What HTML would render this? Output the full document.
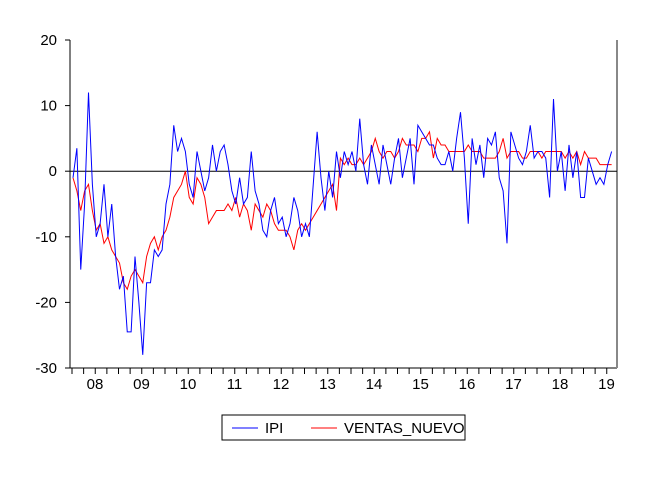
<!DOCTYPE html>
<html><head><meta charset="utf-8"><style>
body{margin:0;background:#fff;}
svg text{font-family:"Liberation Sans",Arial,sans-serif;font-size:15px;fill:#000;}
</style></head><body>
<svg id="chart" width="659" height="475" viewBox="0 0 659 475" xmlns="http://www.w3.org/2000/svg">
<g id="axes"></g>
<g id="series"></g>
<g>
<rect x="222" y="415" width="243" height="25" fill="#fff" stroke="#000" stroke-width="1"/>
<line x1="232" y1="428" x2="258" y2="428" stroke="#0000ff" stroke-width="1"/>
<text x="265" y="433">IPI</text>
<line x1="311" y1="428" x2="337" y2="428" stroke="#ff0000" stroke-width="1"/>
<text x="344" y="433">VENTAS_NUEVO</text>
</g>
</svg>
<script>
const yearLabels=["08","09","10","11","12","13","14","15","16","17","18","19"];
const yTicks=[20,10,0,-10,-20,-30];
const ipi=[
-1,3.5,-15,-5,12,-2,-10,-8,-2,-10,-5,-13,
-18,-16,-24.5,-24.5,-13,-20,-28,-17,-17,-12,-13,-12,
-5,-2,7,3,5,3,-2,-4,3,0,-3,-1,
4,0,3,4,1,-3,-5,-1,-5,-4,3,-3,
-5,-9,-10,-6,-4,-8,-7,-10,-8,-4,-6,-10,
-8,-10,-2,6,-1,-6,0,-4,3,-1,3,1,
3,0,8,1,-2,4,1,-2,4,1,-2,2,
5,-1,2,5,-2,7,6,5,4,4,2,1,
1,3,0,5,9,2,-8,5,1,4,-1,5,
4,6,-1,-3,-11,6,4,2,1,3,7,2,
3,3,2,-4,11,0,3,-3,4,-1,3,-4,
-4,2,0,-2,-1,-2,1,3];
const ventas=[
-1,-3,-6,-3,-2,-6,-9,-8,-11,-10,-12,-13,
-14,-17,-18,-16,-15,-16,-17,-13,-11,-10,-12,-10,
-9,-7,-4,-3,-2,0,-4,-5,-1,-2,-4,-8,
-7,-6,-6,-6,-5,-6,-4,-7,-5,-6,-9,-5,
-6,-7,-5,-6,-8,-9,-9,-9,-10,-12,-9,-8,
-9,-8,-7,-6,-5,-4,-3,-2,-6,2,1,2,
1,1,2,1,2,3,5,3,2,3,3,2,
3,5,4,4,4,3,5,5,6,2,5,4,
4,3,3,3,3,3,4,3,3,3,2,2,
2,2,3,5,2,3,3,3,2,2,3,3,
3,2,3,3,3,3,3,2,3,2,3,1,
3,2,2,2,1,1,1,1];
const NS='http://www.w3.org/2000/svg';
const L=70,R=617,T=40,B=368,X0=72,MW=3.875;
const ymin=-30,ymax=20;
function ys(v){return B-(v-ymin)/(ymax-ymin)*(B-T);}
function xs(i){return X0+1+i*MW;}
function mk(tag,attrs,parent){const e=document.createElementNS(NS,tag);for(const k in attrs)e.setAttribute(k,attrs[k]);parent.appendChild(e);return e;}
const ax=document.getElementById('axes');
let e;
e=mk('line',{x1:L,y1:T,x2:L,y2:B,stroke:'#000'},ax);


e=mk('line',{x1:L,y1:B,x2:R,y2:B,stroke:'#000'},ax);


e=mk('line',{x1:R,y1:T,x2:R,y2:B,stroke:'#888',"stroke-width":2},ax);


e=mk('line',{x1:L,y1:ys(0),x2:R,y2:ys(0),stroke:'#000'},ax);


yTicks.forEach(v=>{
  mk('line',{x1:L-5,y1:ys(v),x2:L,y2:ys(v),stroke:'#000'},ax);
  const t=mk('text',{x:L-13,y:ys(v)+5,'text-anchor':'end'},ax);
  t.textContent=v;
  
  
});
for(let q=0;q<=yearLabels.length*4;q++){
  const x=X0+q*MW*3;
  if(x>R)break;
  mk('line',{x1:x,y1:B,x2:x,y2:B+6,stroke:'#000'},ax);
}
yearLabels.forEach((lab,i)=>{
  const t=mk('text',{x:X0+i*12*MW+23,y:B+21,'text-anchor':'middle'},ax);
  t.textContent=lab;
  
  
});
const sg=document.getElementById('series');
function draw(arr,color,name){
  const p=mk('polyline',{points:arr.map((v,i)=>xs(i)+','+ys(v)).join(' '),fill:'none',stroke:color,'stroke-width':1},sg);
  
  
}
draw(ventas,'#ff0000','ventas-nuevo-line');
draw(ipi,'#0000ff','ipi-line');
</script>
</body></html>
